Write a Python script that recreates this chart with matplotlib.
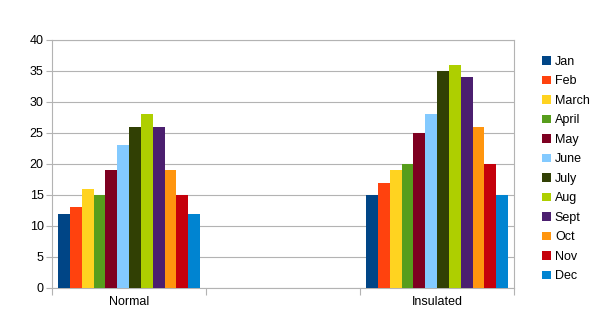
import numpy as np
import matplotlib.pyplot as plt

plt.rcParams['font.family'] = ['Liberation Sans', 'DejaVu Sans']

###### dados ######
grupos = ['Normal', '', 'Insulated']
meses = ['Jan', 'Feb', 'March', 'April', 'May', 'June', 'July', 'Aug',
         'Sept', 'Oct', 'Nov', 'Dec']
normal = [12, 13, 16, 15, 19, 23, 26, 28, 26, 19, 15, 12]
insulated = [15, 17, 19, 20, 25, 28, 35, 36, 34, 26, 20, 15]
cores = ['#004586', '#ff420e', '#ffd320', '#579d1c', '#7e0021', '#83caff',
         '#314004', '#aecf00', '#4b1f6f', '#ff950e', '#c5000b', '#0084d1']

###### plot ######
fig = plt.figure(figsize=(6.04, 3.36), dpi=100)
ax = fig.add_axes([0.0861, 0.1429, 0.7649, 0.7381])

centros = np.array([0.5, 2.5])
largura = 0.922 / len(meses)
for i, mes in enumerate(meses):
    x = centros - 0.461 + largura * (i + 0.5)
    ax.bar(x, [normal[i], insulated[i]], width=largura, color=cores[i],
           label=mes, zorder=3)

ax.set_xlim(0, 3)
ax.set_ylim(0, 40)
ax.set_yticks(range(0, 41, 5))
ax.set_xticks([0, 1, 2, 3])
ax.set_xticklabels([])
ax.set_xticks([0.5, 1.5, 2.5], minor=True)
ax.set_xticklabels(grupos, minor=True)
ax.tick_params(axis='x', which='minor', length=0, pad=6)
ax.tick_params(axis='x', which='major', length=5, color='#b3b3b3')
ax.tick_params(axis='y', length=4, color='#b3b3b3', pad=2)
ax.tick_params(labelsize=9, colors='black', which='both')
ax.tick_params(axis='x', which='major', color='#b3b3b3')
ax.tick_params(axis='y', color='#b3b3b3')
ax.grid(axis='y', color='#b3b3b3', linewidth=0.8, zorder=0)
for s in ax.spines.values():
    s.set_color('#b3b3b3')
    s.set_linewidth(0.8)

fig.legend(loc='upper left', bbox_to_anchor=(0.8866, 0.852), frameon=False,
           fontsize=9, handlelength=0.7, handleheight=0.7,
           handletextpad=0.35, labelspacing=0.6, borderpad=0)

plt.savefig('out.png', dpi=100)
